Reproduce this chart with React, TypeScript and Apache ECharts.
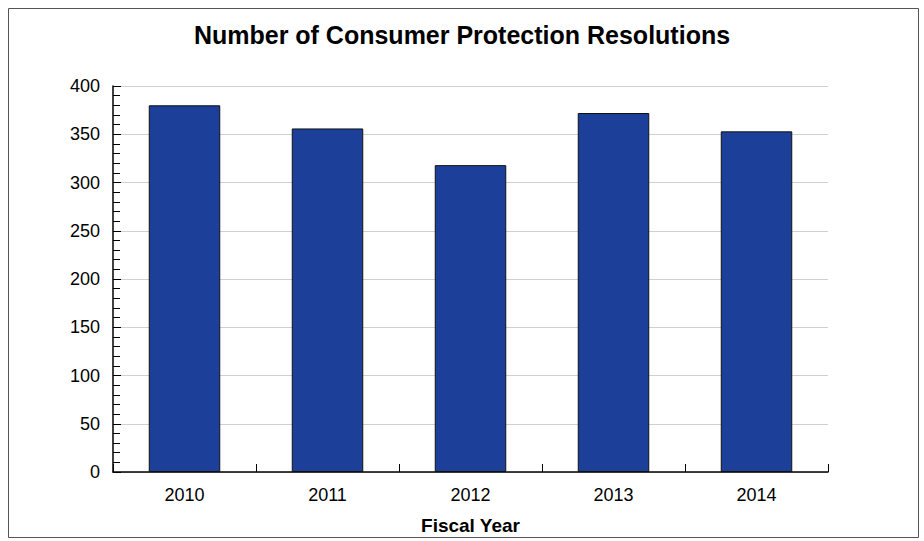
import React, { useEffect, useRef } from "react";
import * as echarts from "echarts";

const categories = ["2010", "2011", "2012", "2013", "2014"];
const resolutions = [380, 356, 318, 372, 353];
const titleText = "Number of Consumer Protection Resolutions";
const xAxisTitle = "Fiscal Year";

export default function App() {
  const ref = useRef<HTMLDivElement>(null);
  useEffect(() => {
    document.body.style.margin = "0";
    const chart = echarts.init(ref.current!, null, { renderer: "svg" });
    const font = "Liberation Sans, Arial, sans-serif";
    chart.setOption({
      animation: false,
      backgroundColor: "#ffffff",
      textStyle: { fontFamily: font },
      title: {
        text: titleText,
        left: "center",
        top: 22,
        padding: 0,
        textStyle: { fontSize: 25, fontWeight: "bold", color: "#000", fontFamily: font },
      },
      graphic: [
        {
          type: "rect",
          shape: { x: 8.5, y: 8.5, width: 910, height: 529 },
          style: { fill: "none", stroke: "#555", lineWidth: 1 },
          silent: true,
        },
      ],
      grid: { left: 113, right: 96, top: 86, bottom: 69, containLabel: false },
      xAxis: {
        type: "category",
        data: categories,
        name: xAxisTitle,
        nameLocation: "middle",
        nameGap: 44,
        nameTextStyle: { fontSize: 19, fontWeight: "bold", color: "#000", fontFamily: font },
        axisLine: { lineStyle: { color: "#000", width: 1.5 } },
        axisTick: { show: true, inside: true, length: 8, alignWithLabel: false, lineStyle: { color: "#000" } },
        axisLabel: { fontSize: 18, color: "#000", margin: 14, fontFamily: font },
      },
      yAxis: {
        type: "value",
        min: 0,
        max: 400,
        interval: 50,
        axisLine: { show: true, lineStyle: { color: "#000", width: 1.5 } },
        axisTick: { show: true, inside: true, length: 8, lineStyle: { color: "#000" } },
        minorTick: { show: true, splitNumber: 5, length: 7, lineStyle: { color: "#000" } },
        splitLine: { show: true, lineStyle: { color: "#d0d0d0", width: 1 } },
        axisLabel: { fontSize: 18, color: "#000", margin: 13, fontFamily: font },
      },
      series: [
        {
          type: "bar",
          data: resolutions,
          barWidth: "50%",
          itemStyle: { color: "#1c3f9a", borderColor: "#111", borderWidth: 1 },
        },
      ],
    });
    return () => chart.dispose();
  }, []);
  return <div ref={ref} style={{ position: "absolute", left: 0, top: 0, width: 924, height: 541 }} />;
}
